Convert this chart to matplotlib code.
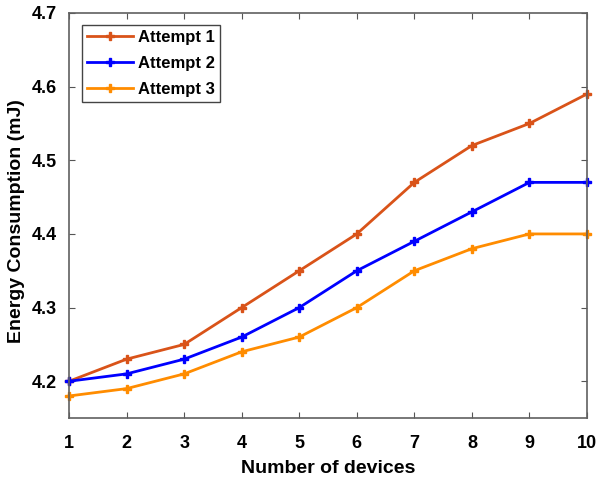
import numpy as np
import matplotlib.pyplot as plt

plt.rcParams['font.family'] = 'Liberation Sans'
plt.rcParams['font.weight'] = 'bold'

devices = np.arange(1, 11)
attempt1 = [4.20, 4.23, 4.25, 4.30, 4.35, 4.40, 4.47, 4.52, 4.55, 4.59]
attempt2 = [4.20, 4.21, 4.23, 4.26, 4.30, 4.35, 4.39, 4.43, 4.47, 4.47]
attempt3 = [4.18, 4.19, 4.21, 4.24, 4.26, 4.30, 4.35, 4.38, 4.40, 4.40]

fig = plt.figure(figsize=(5.97, 4.8), dpi=100)
ax = fig.add_axes([0.1156, 0.129, 0.8677, 0.844])

ax.plot(devices, attempt1, color='#D95319', lw=2, marker='P', ms=6, label='Attempt 1', clip_on=False)
ax.plot(devices, attempt2, color='#0000FF', lw=2, marker='P', ms=6, label='Attempt 2', clip_on=False)
ax.plot(devices, attempt3, color='#FF8C00', lw=2, marker='P', ms=6, label='Attempt 3', clip_on=False)

ax.set_xlim(1, 10)
ax.set_ylim(4.15, 4.7)
ax.set_xticks(devices)
ax.set_yticks([4.2, 4.3, 4.4, 4.5, 4.6, 4.7])
ax.tick_params(direction='in', top=True, right=True, labelsize=13, length=4,
               color='#555555')
ax.tick_params(axis='x', pad=12)
ax.tick_params(axis='y', pad=8.5)
for s in ax.spines.values():
    s.set_color('#606060')
    s.set_linewidth(1.2)

ax.set_xlabel('Number of devices', fontsize=14, fontweight='bold')
ax.set_ylabel('Energy Consumption (mJ)', fontsize=14, fontweight='bold')
ax.xaxis.set_label_coords(0.5, -0.104)
ax.yaxis.set_label_coords(-0.085, 0.486)

leg = ax.legend(loc='upper left', fontsize=12, fancybox=False, framealpha=1,
                edgecolor='#444444', handlelength=2.76, borderpad=0.3,
                labelspacing=0.65, handletextpad=0.3, borderaxespad=0,
                bbox_to_anchor=(0.025, 0.97))
leg.get_frame().set_linewidth(1)

fig.savefig('out.png', dpi=100)
